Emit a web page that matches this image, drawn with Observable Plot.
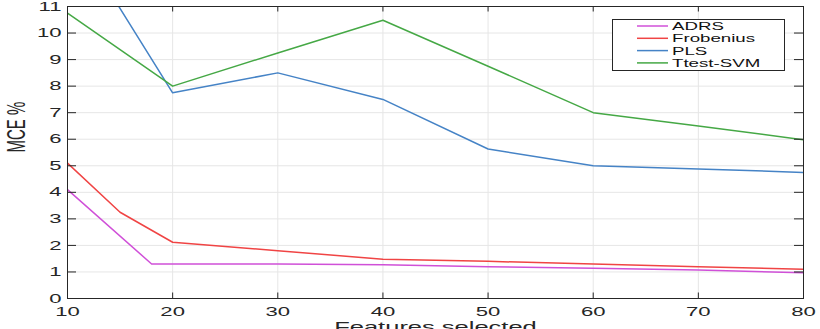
<!DOCTYPE html>
<html><head><meta charset="utf-8">
<script src="https://cdn.jsdelivr.net/npm/d3@7"></script>
<script src="https://cdn.jsdelivr.net/npm/@observablehq/plot@0.6"></script>
<style>
html,body{margin:0;padding:0;background:#fff;overflow:hidden}
</style></head><body><div id="chart"></div>
<script>
const seriesNames = ["ADRS", "Frobenius", "PLS", "Ttest-SVM"];
const seriesColors = ["#d050d8", "#f04444", "#4583c6", "#45a845"];

const adrsX = [10, 18, 30, 40, 50, 60, 70, 80];
const adrsY = [4.1, 1.3, 1.3, 1.27, 1.2, 1.14, 1.07, 0.97];
const frobX = [10, 15, 20, 30, 40, 50, 60, 70, 80];
const frobY = [5.1, 3.25, 2.12, 1.8, 1.48, 1.4, 1.3, 1.2, 1.1];
const plsX = [10, 20, 30, 40, 50, 60, 70, 80];
const plsY = [14.1, 7.75, 8.5, 7.5, 5.63, 5.0, 4.88, 4.75];
const ttestX = [10, 20, 30, 40, 50, 60, 70, 80];
const ttestY = [10.75, 8.0, 9.25, 10.48, 8.75, 7.0, 6.5, 5.98];

const xTicks = [10, 20, 30, 40, 50, 60, 70, 80];
const yTicks = [0, 1, 2, 3, 4, 5, 6, 7, 8, 9, 10, 11];
const xLabel = "Features selected";
const yLabel = "MCE %";

const seriesXs = [adrsX, frobX, plsX, ttestX];
const seriesYs = [adrsY, frobY, plsY, ttestY];
const rows = [];
seriesNames.forEach((name, s) => {
  seriesXs[s].forEach((x, i) => rows.push({series: name, x, y: seriesYs[s][i]}));
});

const W = 820, H = 329;
const M = {left: 67, right: 17, top: 6, bottom: 31};
const frameW = W - M.left - M.right;
const frameH = H - M.top - M.bottom;
const xTickLen = 5.5, yTickLen = 9;

const STRETCH = 1.7;
const axisColor = "#262626";
const gridColor = "#e6e6e6";

const plot = Plot.plot({
  width: W,
  height: H,
  marginLeft: M.left,
  marginRight: M.right,
  marginTop: M.top,
  marginBottom: M.bottom,
  style: {fontFamily: "'Liberation Sans', Arial, Helvetica, sans-serif", fontSize: "13px", color: axisColor, background: "#fff", overflow: "visible"},
  x: {domain: [10, 80]},
  y: {domain: [0, 11]},
  color: {domain: seriesNames, range: seriesColors},
  marks: [
    Plot.gridX(xTicks, {stroke: gridColor, strokeOpacity: 1, strokeWidth: 1}),
    Plot.gridY(yTicks, {stroke: gridColor, strokeOpacity: 1, strokeWidth: 1}),
    Plot.line(rows, {x: "x", y: "y", z: "series", stroke: "series", strokeWidth: 1.5, clip: true}),
    // inward ticks on all four sides
    Plot.ruleX(xTicks, {x: d => d, insetTop: frameH - xTickLen, stroke: axisColor}),
    Plot.ruleX(xTicks, {x: d => d, insetBottom: frameH - xTickLen, stroke: axisColor}),
    Plot.ruleY(yTicks, {y: d => d, insetRight: frameW - yTickLen, stroke: axisColor}),
    Plot.ruleY(yTicks, {y: d => d, insetLeft: frameW - yTickLen, stroke: axisColor}),
    Plot.frame({stroke: axisColor, strokeWidth: 1}),
    // tick labels
    Plot.axisX(xTicks, {anchor: "bottom", tickSize: 0, tickPadding: 8, label: null, fill: axisColor}),
    Plot.axisY(yTicks, {anchor: "left", tickSize: 0, tickPadding: 6, label: null, fill: axisColor}),
    // axis titles
    Plot.text([xLabel], {text: d => d, frameAnchor: "bottom", lineAnchor: "top", dy: 23, fontSize: 15, fill: axisColor}),
    Plot.text([yLabel], {text: d => d, frameAnchor: "left", rotate: -90, dx: -51, fontSize: 15, fill: axisColor})
  ]
});

// horizontally stretch text to match the reference's wide glyphs
plot.querySelectorAll("text").forEach(el => {
  const t = el.getAttribute("transform") || "";
  const x = parseFloat(el.getAttribute("x")) || 0;
  if (t.includes("rotate")) {
    el.setAttribute("transform", `${t} scale(1,${STRETCH})`);
  } else {
    el.setAttribute("transform", `${t} translate(${x},0) scale(${STRETCH},1) translate(${-x},0)`);
  }
});

// legend box (MATLAB style, inside the plot area)
const svg = d3.select(plot);
const lg = svg.append("g")
  .attr("font-family", "'Liberation Sans', Arial, Helvetica, sans-serif")
  .attr("font-size", 11)
  .attr("text-anchor", "start");
const L = {x: 612.5, y: 19.5, w: 172, h: 51, row0: 26, step: 12.3, lx0: 637, lx1: 668, tx: 672};
lg.append("rect").attr("x", L.x).attr("y", L.y).attr("width", L.w).attr("height", L.h)
  .attr("fill", "#fff").attr("stroke", axisColor).attr("stroke-width", 1);
seriesNames.forEach((name, i) => {
  const cy = L.row0 + i * L.step;
  lg.append("line").attr("x1", L.lx0).attr("x2", L.lx1).attr("y1", cy).attr("y2", cy)
    .attr("stroke", seriesColors[i]).attr("stroke-width", 1.5);
  lg.append("text").attr("transform", `translate(${L.tx},${cy}) scale(${STRETCH},1)`)
    .attr("text-anchor", "start")
    .attr("dy", "0.36em").attr("fill", "#111").text(name);
});

document.getElementById("chart").appendChild(plot);
</script>
</body></html>
